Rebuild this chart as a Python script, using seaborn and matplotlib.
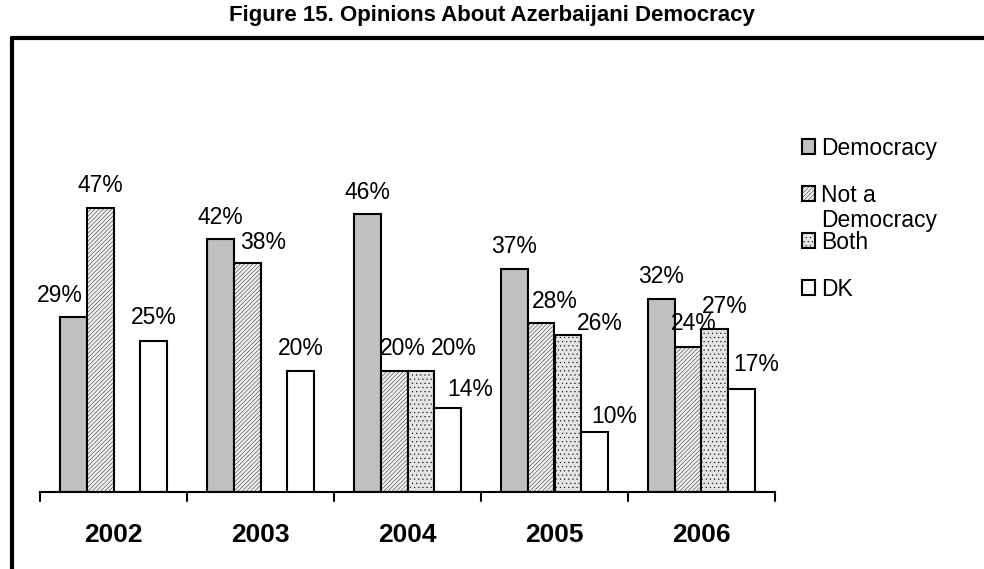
import pandas as pd
import matplotlib.pyplot as plt
import matplotlib.patches as mpatches
from matplotlib.lines import Line2D
import seaborn as sns

# Data (percent)
years = ["2002", "2003", "2004", "2005", "2006"]
answers = ["Democracy", "Not a Democracy", "Both", "DK"]
democracy = [29, 42, 46, 37, 32]
not_democracy = [47, 38, 20, 28, 24]
both = [None, None, 20, 26, 27]
dk = [25, 20, 14, 10, 17]

fills = ["#c0c0c0", "#f0f0f0", "#e4e4e4", "white"]
hatches = ["", "////////", "....", ""]

# label nudges (pixels): dx, baseline height above bar top
label_shift = {
    "Democracy": [(-13, 15), (0, 15), (0, 15), (0, 16), (0, 16)],
    "Not a Democracy": [(0, 16), (16, 14), (9, 16), (14, 15), (6, 17)],
    "Both": [None, None, (33, 16), (32, 5), (10, 16)],
    "DK": [(0, 17), (0, 16), (22, 12), (20, 9), (14, 18)],
}

df = pd.DataFrame({
    "year": years * 4,
    "answer": sum([[a] * 5 for a in answers], []),
    "pct": democracy + not_democracy + both + dk,
}).dropna()

sns.set_style("white")
plt.rcParams["font.family"] = ["Liberation Sans", "DejaVu Sans"]
plt.rcParams["text.color"] = "black"
plt.rcParams["xtick.color"] = "black"
plt.rcParams["hatch.linewidth"] = 0.3

fig = plt.figure(figsize=(9.84, 5.69), dpi=100)
ax = fig.add_axes([40 / 984, 77 / 569, 735 / 984, 362 / 569])

sns.barplot(data=df, x="year", y="pct", hue="answer", hue_order=answers,
            order=years, width=0.73, dodge=True, ax=ax, legend=False,
            edgecolor="black", linewidth=1.5, saturation=1)

for cont, ans, fc, h in zip(ax.containers, answers, fills, hatches):
    for bar, v in zip(cont, cont.datavalues):
        bar.set_facecolor(fc)
        bar.set_hatch(h)
        cx = bar.get_x() + bar.get_width() / 2
        dx, dy = label_shift[ans][int(round(cx))]
        ax.annotate(f"{v:.0f}%", (cx, v), xytext=(dx, dy),
                    textcoords="offset pixels", ha="center", va="baseline",
                    fontsize=16.5)

ax.set_ylim(0, 60)
ax.set_xlim(-0.5, 4.5)
ax.set_yticks([])
ax.set_xlabel("")
ax.set_ylabel("")
ax.set_xticks([0, 1, 2, 3, 4])
ax.set_xticklabels(years, fontsize=19, fontweight="bold")
ax.tick_params(axis="x", length=0, pad=22)
for t in [-0.5, 0.5, 1.5, 2.5, 3.5, 4.5]:
    ax.plot([t, t], [0, -1.5], color="black", lw=1.5, clip_on=False)
for s in ["top", "right", "left"]:
    ax.spines[s].set_visible(False)
ax.spines["bottom"].set_color("black")
ax.spines["bottom"].set_linewidth(1.5)

# legend
handles = [mpatches.Patch(facecolor=fc, edgecolor="black", hatch=h, lw=1.5)
           for fc, h in zip(fills, hatches)]
leg = fig.legend(handles, ["Democracy", "Not a", "Both", "DK"],
                 loc="upper left", bbox_to_anchor=(781 / 984, 1 - 116 / 569),
                 frameon=False, fontsize=16.5, handlelength=0.6,
                 handleheight=0.6, handletextpad=0.25, labelspacing=1.05)
fig.text(821 / 984, 1 - 221 / 569, "Democracy", fontsize=16.5, va="center")

# frame lines and title
fig.add_artist(Line2D([12 / 984, 984 / 984], [1 - 38 / 569, 1 - 38 / 569],
                      color="black", lw=3))
fig.add_artist(Line2D([12 / 984, 12 / 984], [0, 1 - 38 / 569],
                      color="black", lw=3))
fig.text(0.5, 1 - 16 / 569, "Figure 15. Opinions About Azerbaijani Democracy",
         ha="center", va="center", fontsize=16, fontweight="bold")

fig.savefig("out.png", dpi=100)
